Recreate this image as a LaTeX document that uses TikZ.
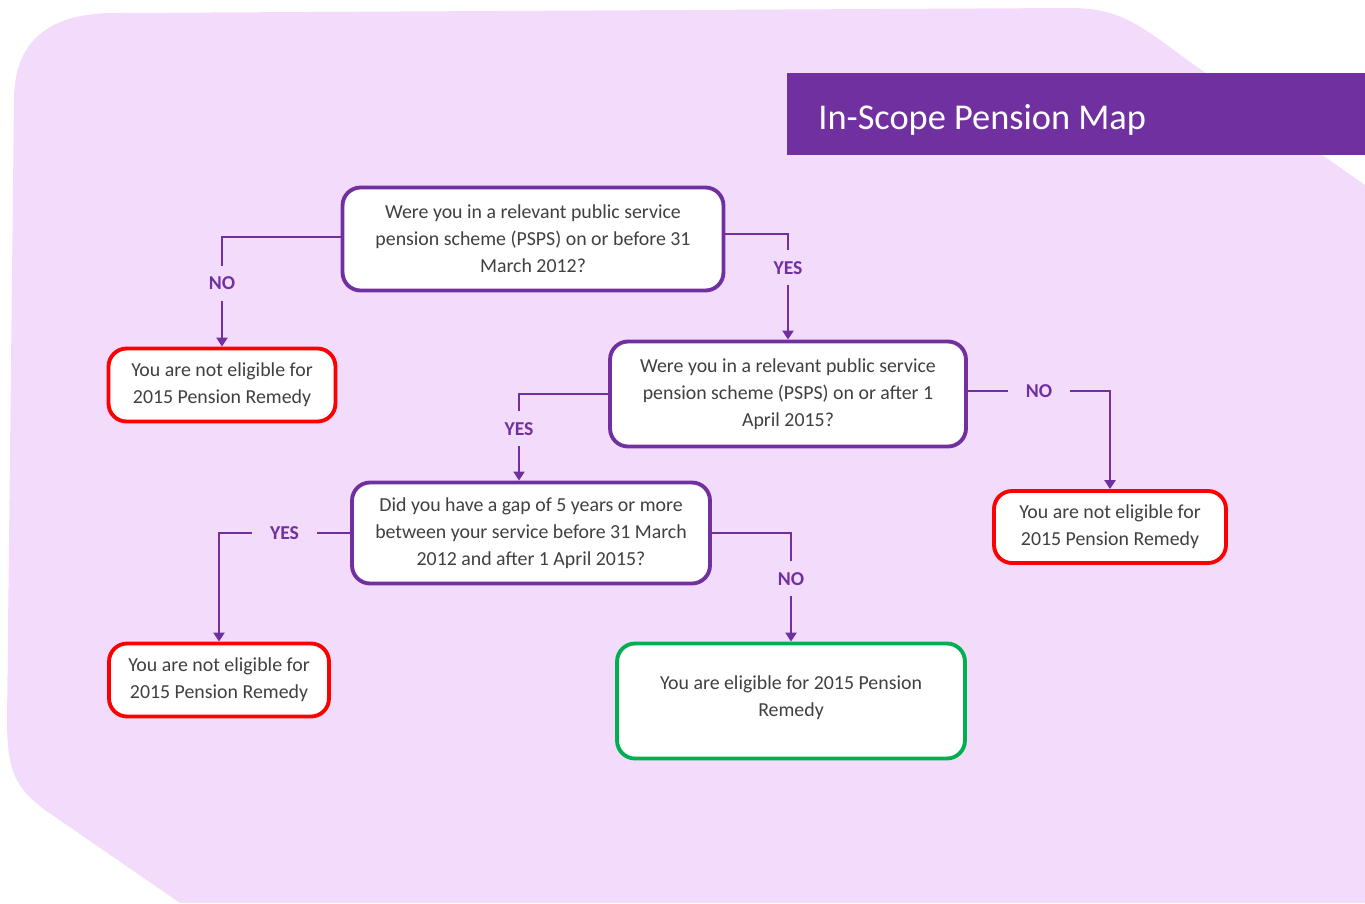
\documentclass[tikz,border=0pt]{standalone}
\usepackage{fontspec}
\setmainfont{Carlito}
\usetikzlibrary{arrows.meta}
\definecolor{mapbg}{HTML}{F3DCFB}
\definecolor{mappurple}{HTML}{7030A0}
\definecolor{mapred}{HTML}{FF0000}
\definecolor{mapgreen}{HTML}{00B050}
\definecolor{maptext}{HTML}{404040}
\tikzset{
	question/.style={draw=mappurple, line width=2.2pt, fill=white, rounded corners=0.36cm, align=center, text=maptext, font=\fontsize{11.3}{15.3}\selectfont},
	noteligible/.style={question, draw=mapred},
	eligible/.style={question, draw=mapgreen},
	link/.style={draw=mappurple, line width=1.6pt, -{Triangle[length=0.18cm,width=0.22cm]}},
	answer/.style={fill=mapbg, text=mappurple, font=\fontsize{11.2}{13}\selectfont\bfseries, inner xsep=0.36cm, inner ysep=0.22cm},
}

\begin{document}
\begin{tikzpicture}[x=0.02cm, y=-0.02cm]
	%%%%% START %%%%%
	
	\useasboundingbox (0,0) rectangle (1365,903);
	\fill[mapbg] (14,100) .. controls (14,40) and (50,13) .. (115,13) -- (1070,8) .. controls (1120,8) and (1140,25) .. (1190,62) -- (1365,185) -- (1365,903) -- (180,903) -- (45,810) .. controls (15,788) and (7,770) .. (7,720) -- cycle;
	
	\fill[mappurple] (787,73) rectangle (1365,155);
	\node[anchor=base west, inner sep=0pt, text=white, font=\fontsize{20.7}{25}\selectfont] (title) at (818,129) {In-Scope Pension Map};
	
	\node[question, minimum width=7.62cm, minimum height=2.06cm] (pre) at (533,239) {Were you in a relevant public service\\pension scheme (PSPS) on or before 31\\March 2012?};
	\node[noteligible, minimum width=4.54cm, minimum height=1.46cm] (nopre) at (222,385) {You are not eligible for\\2015 Pension Remedy};
	
	\node[question, minimum width=7.12cm, minimum height=2.10cm] (post) at (788,394) {Were you in a relevant public service\\pension scheme (PSPS) on or after 1\\April 2015?};
	\node[noteligible, minimum width=4.64cm, minimum height=1.44cm] (nopost) at (1110,527) {You are not eligible for\\2015 Pension Remedy};
	
	\node[question, minimum width=7.16cm, minimum height=2.02cm] (gap) at (531,533) {Did you have a gap of 5 years or more\\between your service before 31 March\\2012 and after 1 April 2015?};
	\node[noteligible, minimum width=4.40cm, minimum height=1.46cm] (nogap) at (219,680) {You are not eligible for\\2015 Pension Remedy};
	\node[eligible, minimum width=6.96cm, minimum height=2.30cm, text depth=0.2cm] (remedy) at (791,701) {You are eligible for 2015 Pension\\Remedy};
	
	\draw[link] ([yshift=0.04cm]pre.west) -| node[answer, pos=0.71] (preno) {NO} (nopre.north);
	\draw[link] ([yshift=0.1cm]pre.east) -| node[answer, pos=0.66] (preyes) {YES} (post.north);
	\draw[link] (post.west) -| node[answer, pos=0.7] (postyes) {YES} ([xshift=-0.24cm]gap.north);
	\draw[link] ([yshift=0.06cm]post.east) -| node[answer, pos=0.25] (postno) {NO} (nopost.north);
	\draw[link] (gap.west) -| node[answer, pos=0.25] (gapyes) {YES} (nogap.north);
	\draw[link] (gap.east) -| node[answer, pos=0.71] (gapno) {NO} (remedy.north);
	
	%%%%% END %%%%%
\end{tikzpicture}
\end{document}
